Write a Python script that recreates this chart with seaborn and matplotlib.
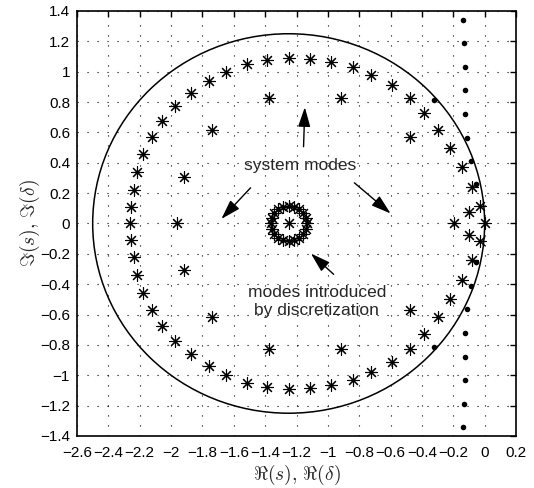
import matplotlib
matplotlib.use("Agg")
import matplotlib.pyplot as plt
from matplotlib.patches import Circle
import seaborn as sns
import pandas as pd

sns.set_style("white")
plt.rcParams['font.family'] = ['Liberation Sans', 'DejaVu Sans']
plt.rcParams['mathtext.fontset'] = 'cm'

# ---- data ----
outer_x = [-2.260, -2.255, -2.238, -2.217, -2.179, -2.123, -2.055, -1.974, -1.871, -1.760,
           -1.649, -1.514, -1.386, -1.251, -1.117, -0.980, -0.841, -0.724, -0.591, -0.478,
           -0.388, -0.296, -0.222, -0.147, -0.083, -0.030, 0.000,
           -2.255, -2.238, -2.217, -2.179, -2.123, -2.055, -1.974, -1.871, -1.760,
           -1.649, -1.514, -1.386, -1.251, -1.117, -0.980, -0.841, -0.724, -0.591, -0.478,
           -0.388, -0.296, -0.222, -0.147, -0.083, -0.030]
outer_y = [0.000, 0.110, 0.220, 0.337, 0.455, 0.570, 0.675, 0.772, 0.858, 0.939,
           1.000, 1.050, 1.078, 1.089, 1.083, 1.063, 1.030, 0.979, 0.911, 0.825,
           0.726, 0.616, 0.499, 0.374, 0.242, 0.114, 0.000,
           -0.110, -0.220, -0.337, -0.455, -0.570, -0.675, -0.772, -0.858, -0.939,
           -1.000, -1.050, -1.078, -1.089, -1.083, -1.063, -1.030, -0.979, -0.911, -0.825,
           -0.726, -0.616, -0.499, -0.374, -0.242, -0.114]

system_x = [-1.960, -1.918, -1.736, -1.376, -0.918, -0.478, -0.194, -0.100,
            -1.918, -1.736, -1.376, -0.918, -0.478, -0.100]
system_y = [0.000, 0.304, 0.616, 0.825, 0.825, 0.572, 0.000, 0.077,
            -0.304, -0.616, -0.825, -0.825, -0.572, -0.077]

ring_x = [-1.250, -1.135, -1.141, -1.157, -1.182, -1.215, -1.250, -1.285, -1.318, -1.343, -1.359,
          -1.365, -1.359, -1.343, -1.318, -1.285, -1.250, -1.215, -1.182, -1.157, -1.141]
ring_y = [0.000, 0.000, 0.036, 0.068, 0.093, 0.109, 0.115, 0.109, 0.093, 0.068, 0.036,
          0.000, -0.036, -0.068, -0.093, -0.109, -0.115, -0.109, -0.093, -0.068, -0.036]

dots_x = [-0.136, -0.130, -0.126, -0.126, -0.126, -0.113, -0.087, -0.057, -0.322,
          -0.136, -0.130, -0.126, -0.126, -0.126, -0.113, -0.087, -0.057, -0.322]
dots_y = [1.342, 1.188, 1.034, 0.880, 0.721, 0.565, 0.411, 0.257, 0.814,
          -1.342, -1.188, -1.034, -0.880, -0.721, -0.565, -0.411, -0.257, -0.814]

circle_center = (-1.25, 0.0)
circle_radius = 1.25

x_ticks = [-2.6, -2.4, -2.2, -2.0, -1.8, -1.6, -1.4, -1.2, -1.0, -0.8, -0.6, -0.4, -0.2, 0.0, 0.2]
x_labels = ['\u22122.6', '\u22122.4', '\u22122.2', '\u22122', '\u22121.8', '\u22121.6', '\u22121.4',
            '\u22121.2', '\u22121', '\u22120.8', '\u22120.6', '\u22120.4', '\u22120.2', '0', '0.2']
y_ticks = [-1.4, -1.2, -1.0, -0.8, -0.6, -0.4, -0.2, 0.0, 0.2, 0.4, 0.6, 0.8, 1.0, 1.2, 1.4]
y_labels = ['\u22121.4', '\u22121.2', '\u22121', '\u22120.8', '\u22120.6', '\u22120.4', '\u22120.2',
            '0', '0.2', '0.4', '0.6', '0.8', '1', '1.2', '1.4']

# ---- figure ----
fig = plt.figure(figsize=(5.34, 4.88), dpi=100)
ax = fig.add_axes([0.1442, 0.1066, 0.8221, 0.8709])

star = (8, 2, 0)
df_stars = pd.DataFrame({'x': outer_x + system_x + ring_x, 'y': outer_y + system_y + ring_y})
sns.scatterplot(data=df_stars, x='x', y='y', marker=star, s=72, color='black',
                linewidth=0.8, ax=ax, zorder=3)
df_dots = pd.DataFrame({'x': dots_x, 'y': dots_y})
sns.scatterplot(data=df_dots, x='x', y='y', marker='o', s=16, color='black',
                edgecolor='black', linewidth=0, ax=ax, zorder=3)

ax.add_patch(Circle(circle_center, circle_radius, fill=False, edgecolor='black', linewidth=1.1, zorder=2))

# annotations
arrow = dict(arrowstyle='-|>,head_length=0.8,head_width=0.25', color='black', lw=1.0,
             mutation_scale=15, shrinkA=0, shrinkB=0)
ax.annotate('', xy=(-1.147, 0.766), xytext=(-1.155, 0.506), arrowprops=arrow)
ax.annotate('', xy=(-1.679, 0.030), xytext=(-1.493, 0.235), arrowprops=arrow)
ax.annotate('', xy=(-0.600, 0.066), xytext=(-0.831, 0.268), arrowprops=arrow)
ax.annotate('', xy=(-1.108, -0.198), xytext=(-0.963, -0.335), arrowprops=arrow)
ax.text(-1.18, 0.385, 'system modes', ha='center', va='center', fontsize=12.5)
ax.text(-1.07, -0.514, 'modes introduced\nby discretization', ha='center', va='center',
        fontsize=12.5, linespacing=1.2)

ax.set_xlim(-2.6, 0.2)
ax.set_ylim(-1.4, 1.4)
ax.set_xticks(x_ticks)
ax.set_xticklabels(x_labels)
ax.set_yticks(y_ticks)
ax.set_yticklabels(y_labels)
ax.tick_params(direction='in', length=4, width=1, top=True, right=True,
               labelsize=11, colors='black')
ax.tick_params(axis='x', pad=7)
ax.tick_params(axis='y', pad=5)
ax.grid(True, color='black', linestyle=(0, (1, 8)), linewidth=0.8)
for sp in ax.spines.values():
    sp.set_visible(True)
    sp.set_color('black')
    sp.set_linewidth(1.2)

ax.set_xlabel(r'$\Re(s),\, \Re(\delta)$', fontsize=14, labelpad=2)
ax.set_ylabel(r'$\Im(s),\, \Im(\delta)$', fontsize=14)
ax.yaxis.set_label_coords(-0.08, 0.5)

fig.savefig('out.png', dpi=100)
